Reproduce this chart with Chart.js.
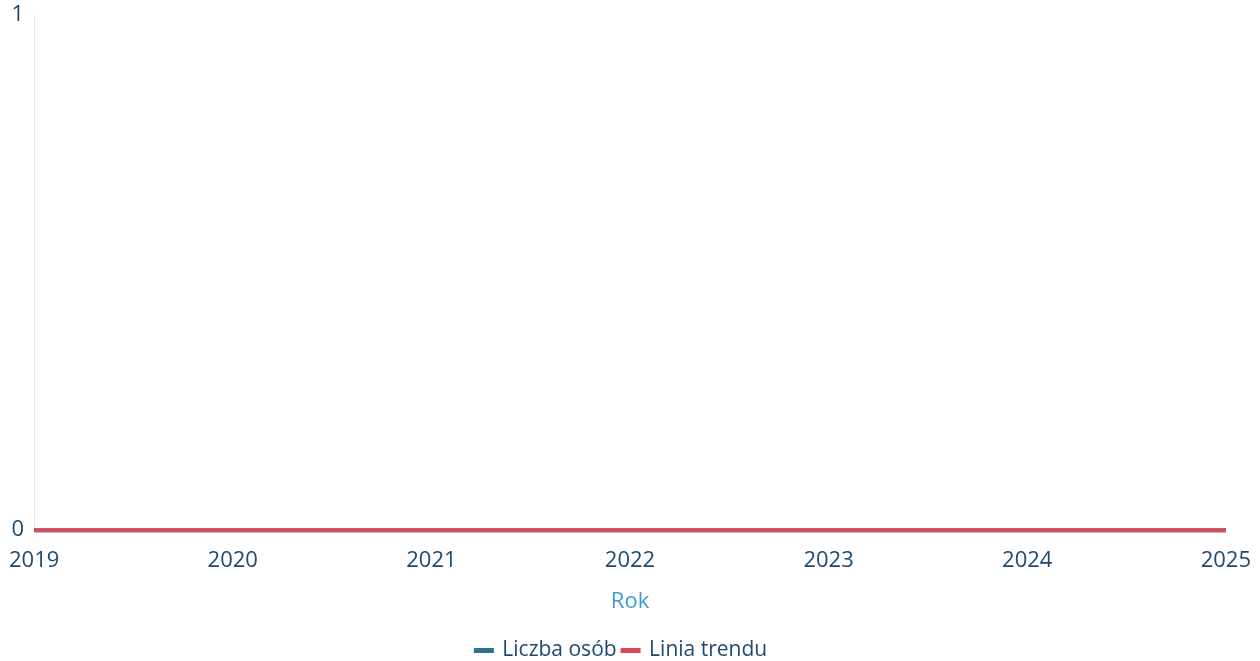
<!DOCTYPE html>
<html>
<head>
<meta charset="utf-8">
<script src="https://cdn.jsdelivr.net/npm/chart.js@4/dist/chart.umd.min.js"></script>
<style>
    html, body { margin: 0; padding: 0; background: #fff; }
    #wrap { width: 1260px; height: 661px; }
</style>
</head>
<body>
<div id="wrap"><canvas id="myLineChart"></canvas></div>
<script>
var years = ["2019", "2020", "2021", "2022", "2023", "2024", "2025"];
var liczbaOsob = [0, 0, 0, 0, 0, 0, 0];
var liniaTrendu = [0, 0, 0, 0, 0, 0, 0];
var yTicks = [0, 1];

var tickColor = "#1d4a6e";

function drawLineChart() {
    var ctx = document.getElementById("myLineChart").getContext("2d");
    var myLineChart = new Chart(ctx, {
        type: "line",
        data: {
            labels: years,
            datasets: [
                {
                    label: "Liczba osób",
                    data: liczbaOsob,
                    borderColor: "#2f6f94",
                    backgroundColor: "#2f6f94",
                    borderWidth: 4,
                    pointRadius: 0,
                    clip: false,
                    order: 1,
                },
                {
                    label: "Linia trendu",
                    data: liniaTrendu,
                    borderColor: "#d64a5c",
                    backgroundColor: "#d64a5c",
                    borderWidth: 4,
                    pointRadius: 0,
                    clip: false,
                    order: 0,
                },
            ],
        },
        options: {
            responsive: true,
            maintainAspectRatio: false,
            animation: false,
            layout: { padding: { top: 12, right: 17, left: 0, bottom: -10 } },
            scales: {
                x: {
                    grid: { display: false },
                    border: { display: false },
                    ticks: {
                        color: tickColor,
                        font: { family: "'Open Sans'", size: 22 },
                        maxRotation: 0,
                        padding: 9,
                    },
                    title: {
                        display: true,
                        text: "Rok",
                        color: "#3d9bd6",
                        font: { family: "'Open Sans'", size: 22 },
                        padding: { top: 6, bottom: 19 },
                    },
                },
                y: {
                    min: yTicks[0],
                    max: yTicks[yTicks.length - 1],
                    afterBuildTicks: function (axis) {
                        axis.ticks = yTicks.map(function (v) { return { value: v }; });
                    },
                    grid: { display: false },
                    border: { display: true, color: "#d6eaf5", width: 1 },
                    ticks: {
                        color: tickColor,
                        font: { family: "'Open Sans'", size: 22 },
                        padding: 2,
                    },
                },
            },
            plugins: {
                legend: {
                    position: "bottom",
                    labels: {
                        color: tickColor,
                        font: { family: "'Open Sans'", size: 21 },
                        boxWidth: 16,
                        boxHeight: 1,
                        padding: 6,
                        sort: function (a, b) { return a.datasetIndex - b.datasetIndex; },
                    },
                },
                tooltip: { enabled: false },
            },
        },
    });
}

window.onload = function () {
    drawLineChart();
};
</script>
</body>
</html>
